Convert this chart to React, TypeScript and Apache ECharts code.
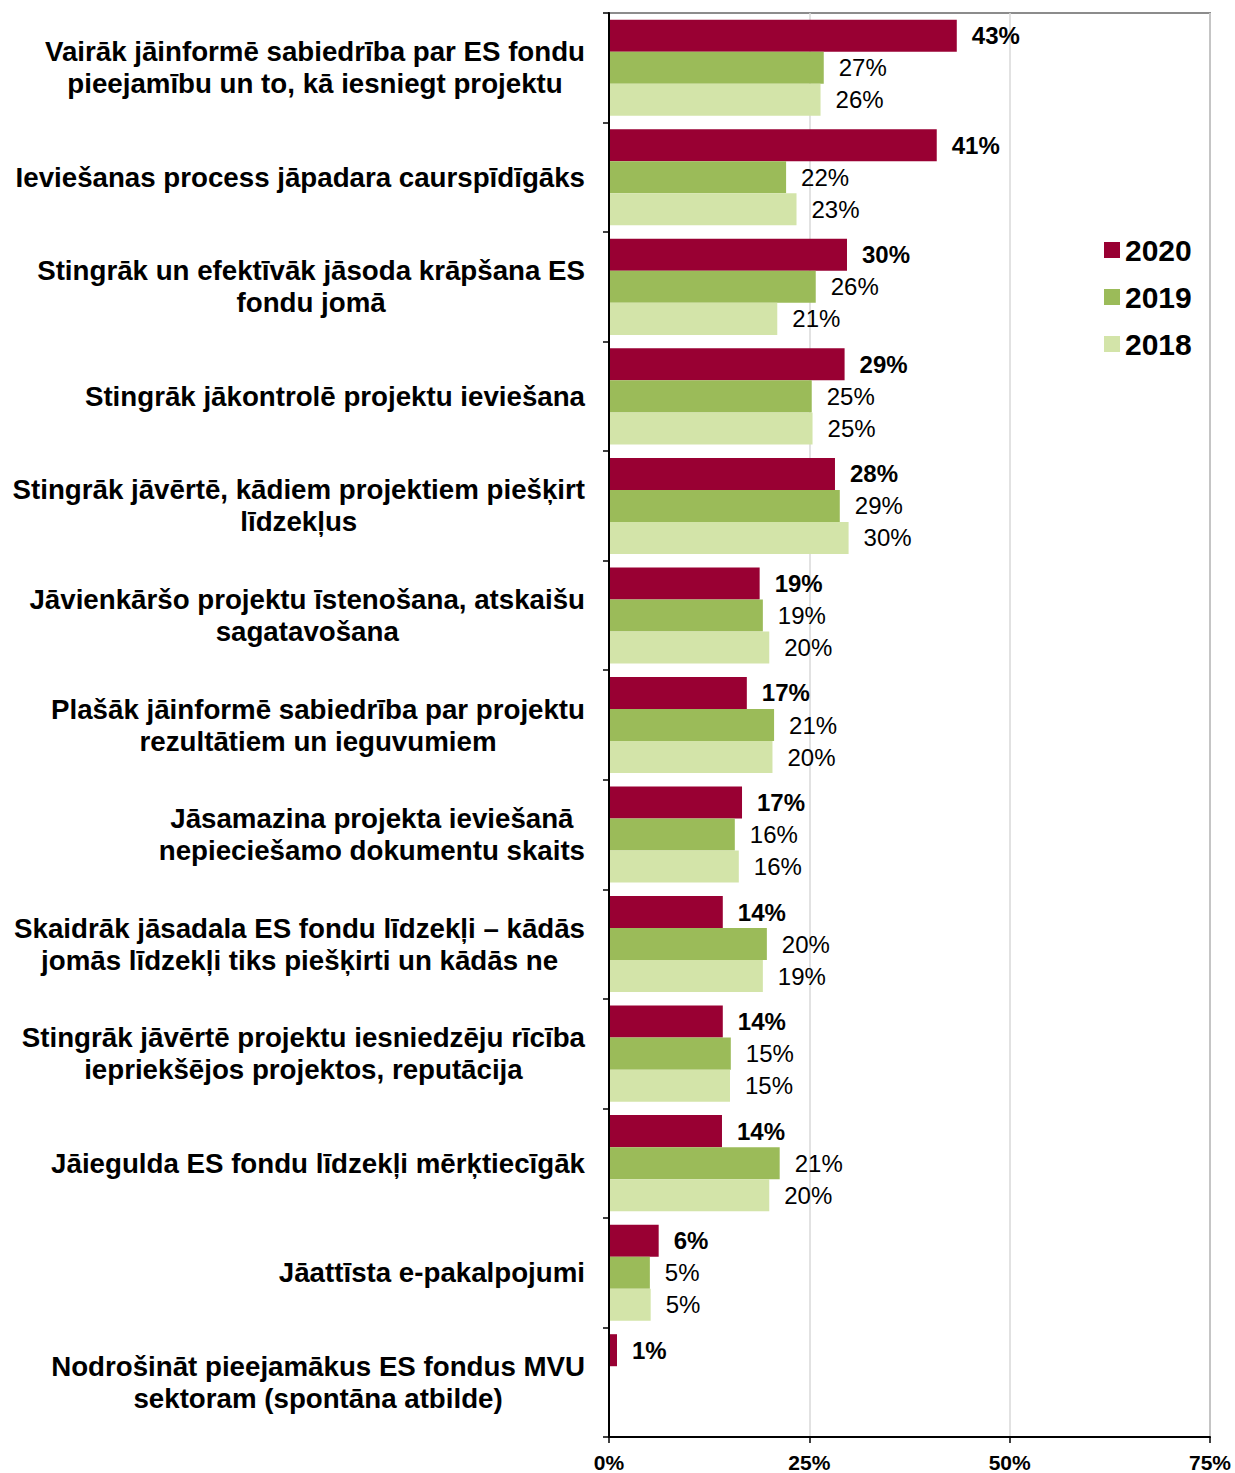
import React, { useEffect, useRef } from "react";
import * as echarts from "echarts";

const categories = [
  "Vairāk jāinformē sabiedrība par ES fondu\npieejamību un to, kā iesniegt projektu",
  "Ieviešanas process jāpadara caurspīdīgāks",
  "Stingrāk un efektīvāk jāsoda krāpšana ES\nfondu jomā",
  "Stingrāk jākontrolē projektu ieviešana",
  "Stingrāk jāvērtē, kādiem projektiem piešķirt\nlīdzekļus",
  "Jāvienkāršo projektu īstenošana, atskaišu\nsagatavošana",
  "Plašāk jāinformē sabiedrība par projektu\nrezultātiem un ieguvumiem",
  "Jāsamazina projekta ieviešanā\nnepieciešamo dokumentu skaits",
  "Skaidrāk jāsadala ES fondu līdzekļi – kādās\njomās līdzekļi tiks piešķirti un kādās ne",
  "Stingrāk jāvērtē projektu iesniedzēju rīcība\niepriekšējos projektos, reputācija",
  "Jāiegulda ES fondu līdzekļi mērķtiecīgāk",
  "Jāattīsta e-pakalpojumi",
  "Nodrošināt pieejamākus ES fondus MVU\nsektoram (spontāna atbilde)",
];

const values2020 = [43.4, 40.9, 29.7, 29.4, 28.2, 18.8, 17.2, 16.6, 14.2, 14.2, 14.1, 6.2, 1.0];
const values2019 = [26.8, 22.1, 25.8, 25.3, 28.8, 19.2, 20.6, 15.7, 19.7, 15.2, 21.3, 5.1, null];
const values2018 = [26.4, 23.4, 21.0, 25.4, 29.9, 20.0, 20.4, 16.2, 19.2, 15.1, 20.0, 5.2, null];

const seriesNames = ["2020", "2019", "2018"];
const seriesColors = ["#990033", "#9bbb59", "#d3e4a9"];
const xTicks = [0, 25, 50, 75];

const FONT = "'Liberation Sans', Arial, sans-serif";
const CAT_FONT_SIZE = 27.7;

export default function App() {
  const ref = useRef<HTMLDivElement>(null);
  useEffect(() => {
    if (!ref.current) return;
    const chart = echarts.init(ref.current, undefined, { renderer: "svg" });
    const data = [values2020, values2019, values2018];
    chart.setOption({
      animation: false,
      backgroundColor: "#ffffff",
      textStyle: { fontFamily: FONT },
      grid: {
        left: 609,
        right: 25,
        top: 13,
        bottom: 36,
        show: true,
        borderColor: "#8c8c8c",
        borderWidth: 2,
        backgroundColor: "transparent",
      },
      legend: {
        orient: "vertical",
        left: 1099,
        top: 230,
        itemWidth: 16,
        itemHeight: 16,
        itemGap: 17,
        icon: "rect",
        data: seriesNames,
        textStyle: { fontFamily: FONT, fontSize: 30, fontWeight: "bold", color: "#000" },
      },
      xAxis: {
        type: "value",
        min: xTicks[0],
        max: xTicks[xTicks.length - 1],
        interval: 25,
        axisLine: { show: true, lineStyle: { color: "#000", width: 2 } },
        axisTick: { show: true, length: 6, lineStyle: { color: "#000", width: 1.5 } },
        splitLine: { show: true, lineStyle: { color: "#d9d9d9", width: 1.5 } },
        axisLabel: {
          formatter: "{value}%",
          fontFamily: FONT,
          fontSize: 21,
          fontWeight: "bold",
          color: "#000",
          margin: 15,
        },
      },
      yAxis: {
        type: "category",
        inverse: true,
        data: categories,
        axisLine: { show: true, lineStyle: { color: "#000", width: 2 } },
        axisTick: { show: true, length: 6, interval: 0, lineStyle: { color: "#000", width: 1.5 } },
        axisLabel: {
          interval: 0,
          margin: 24,
          align: "right",
          fontFamily: FONT,
          fontSize: CAT_FONT_SIZE,
          fontWeight: "bold",
          color: "#000",
          lineHeight: 32,
          formatter: (v: string) =>
            v
              .split("\n")
              .map((l) => `{c|${l}}`)
              .join("\n"),
          rich: {
            c: {
              align: "center",
              fontFamily: FONT,
              fontSize: CAT_FONT_SIZE,
              fontWeight: "bold",
              color: "#000",
              lineHeight: 32,
            },
          },
        },
        z: 10,
      },
      series: seriesNames.map((name, i) => ({
        name,
        type: "bar",
        data: data[i],
        barGap: "0%",
        barCategoryGap: "12.3%",
        itemStyle: { color: seriesColors[i] },
        label: {
          show: true,
          position: "right",
          distance: 15,
          fontFamily: FONT,
          fontSize: 24,
          fontWeight: i === 0 ? "bold" : "normal",
          color: "#000",
          formatter: (p: any) => `${Math.round(p.value)}%`,
        },
      })),
    });
    return () => chart.dispose();
  }, []);
  return (
    <div
      ref={ref}
      style={{ position: "absolute", left: 0, top: 0, width: 1235, height: 1473 }}
    />
  );
}
